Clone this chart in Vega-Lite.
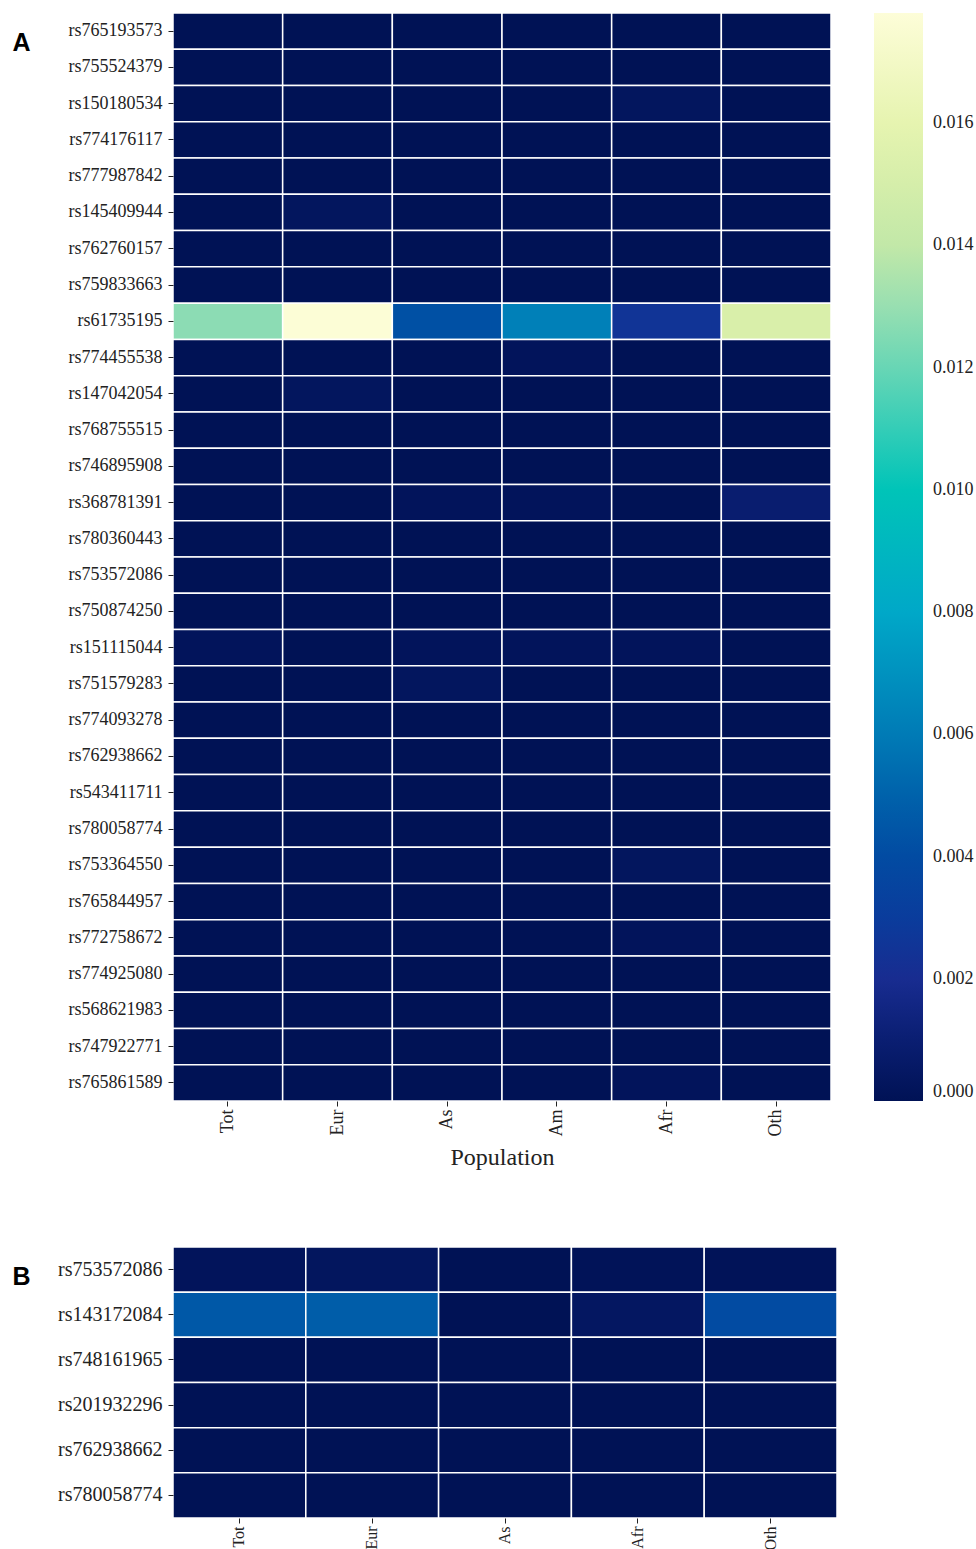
{
  "$schema": "https://vega.github.io/schema/vega-lite/v6.json",
  "padding": {"left": 11, "top": 12, "right": 0, "bottom": 0},
  "background": "white",
  "spacing": 77,
  "config": {
    "view": {"stroke": null},
    "axis": {"domain": false, "grid": false, "tickColor": "#222", "tickSize": 5, "labelColor": "#222", "labelFont": "Liberation Serif"}
  },
  "datasets": {
    "a": [
      {"snp": "rs765193573", "pop": "Tot", "value": 0}, {"snp": "rs765193573", "pop": "Eur", "value": 0}, {"snp": "rs765193573", "pop": "As", "value": 0}, {"snp": "rs765193573", "pop": "Am", "value": 0}, {"snp": "rs765193573", "pop": "Afr", "value": 0}, {"snp": "rs765193573", "pop": "Oth", "value": 0},
      {"snp": "rs755524379", "pop": "Tot", "value": 0}, {"snp": "rs755524379", "pop": "Eur", "value": 0}, {"snp": "rs755524379", "pop": "As", "value": 0}, {"snp": "rs755524379", "pop": "Am", "value": 0}, {"snp": "rs755524379", "pop": "Afr", "value": 0}, {"snp": "rs755524379", "pop": "Oth", "value": 0},
      {"snp": "rs150180534", "pop": "Tot", "value": 0}, {"snp": "rs150180534", "pop": "Eur", "value": 0}, {"snp": "rs150180534", "pop": "As", "value": 0}, {"snp": "rs150180534", "pop": "Am", "value": 0}, {"snp": "rs150180534", "pop": "Afr", "value": 0.0003}, {"snp": "rs150180534", "pop": "Oth", "value": 0},
      {"snp": "rs774176117", "pop": "Tot", "value": 0}, {"snp": "rs774176117", "pop": "Eur", "value": 0}, {"snp": "rs774176117", "pop": "As", "value": 0}, {"snp": "rs774176117", "pop": "Am", "value": 0}, {"snp": "rs774176117", "pop": "Afr", "value": 0}, {"snp": "rs774176117", "pop": "Oth", "value": 0},
      {"snp": "rs777987842", "pop": "Tot", "value": 0}, {"snp": "rs777987842", "pop": "Eur", "value": 0}, {"snp": "rs777987842", "pop": "As", "value": 0}, {"snp": "rs777987842", "pop": "Am", "value": 0}, {"snp": "rs777987842", "pop": "Afr", "value": 0}, {"snp": "rs777987842", "pop": "Oth", "value": 0},
      {"snp": "rs145409944", "pop": "Tot", "value": 0}, {"snp": "rs145409944", "pop": "Eur", "value": 0.0003}, {"snp": "rs145409944", "pop": "As", "value": 0}, {"snp": "rs145409944", "pop": "Am", "value": 0}, {"snp": "rs145409944", "pop": "Afr", "value": 0}, {"snp": "rs145409944", "pop": "Oth", "value": 0},
      {"snp": "rs762760157", "pop": "Tot", "value": 0}, {"snp": "rs762760157", "pop": "Eur", "value": 0}, {"snp": "rs762760157", "pop": "As", "value": 0}, {"snp": "rs762760157", "pop": "Am", "value": 0}, {"snp": "rs762760157", "pop": "Afr", "value": 0}, {"snp": "rs762760157", "pop": "Oth", "value": 0},
      {"snp": "rs759833663", "pop": "Tot", "value": 0}, {"snp": "rs759833663", "pop": "Eur", "value": 0}, {"snp": "rs759833663", "pop": "As", "value": 0}, {"snp": "rs759833663", "pop": "Am", "value": 0}, {"snp": "rs759833663", "pop": "Afr", "value": 0}, {"snp": "rs759833663", "pop": "Oth", "value": 0},
      {"snp": "rs61735195", "pop": "Tot", "value": 0.0127}, {"snp": "rs61735195", "pop": "Eur", "value": 0.0177}, {"snp": "rs61735195", "pop": "As", "value": 0.0043}, {"snp": "rs61735195", "pop": "Am", "value": 0.0062}, {"snp": "rs61735195", "pop": "Afr", "value": 0.0025}, {"snp": "rs61735195", "pop": "Oth", "value": 0.0152},
      {"snp": "rs774455538", "pop": "Tot", "value": 0}, {"snp": "rs774455538", "pop": "Eur", "value": 0}, {"snp": "rs774455538", "pop": "As", "value": 0}, {"snp": "rs774455538", "pop": "Am", "value": 0.0002}, {"snp": "rs774455538", "pop": "Afr", "value": 0}, {"snp": "rs774455538", "pop": "Oth", "value": 0},
      {"snp": "rs147042054", "pop": "Tot", "value": 0}, {"snp": "rs147042054", "pop": "Eur", "value": 0.0003}, {"snp": "rs147042054", "pop": "As", "value": 0}, {"snp": "rs147042054", "pop": "Am", "value": 0}, {"snp": "rs147042054", "pop": "Afr", "value": 0}, {"snp": "rs147042054", "pop": "Oth", "value": 0},
      {"snp": "rs768755515", "pop": "Tot", "value": 0}, {"snp": "rs768755515", "pop": "Eur", "value": 0}, {"snp": "rs768755515", "pop": "As", "value": 0}, {"snp": "rs768755515", "pop": "Am", "value": 0}, {"snp": "rs768755515", "pop": "Afr", "value": 0}, {"snp": "rs768755515", "pop": "Oth", "value": 0},
      {"snp": "rs746895908", "pop": "Tot", "value": 0}, {"snp": "rs746895908", "pop": "Eur", "value": 0}, {"snp": "rs746895908", "pop": "As", "value": 0}, {"snp": "rs746895908", "pop": "Am", "value": 0}, {"snp": "rs746895908", "pop": "Afr", "value": 0}, {"snp": "rs746895908", "pop": "Oth", "value": 0},
      {"snp": "rs368781391", "pop": "Tot", "value": 0}, {"snp": "rs368781391", "pop": "Eur", "value": 0}, {"snp": "rs368781391", "pop": "As", "value": 0.0002}, {"snp": "rs368781391", "pop": "Am", "value": 0.0002}, {"snp": "rs368781391", "pop": "Afr", "value": 0}, {"snp": "rs368781391", "pop": "Oth", "value": 0.0009},
      {"snp": "rs780360443", "pop": "Tot", "value": 0}, {"snp": "rs780360443", "pop": "Eur", "value": 0}, {"snp": "rs780360443", "pop": "As", "value": 0}, {"snp": "rs780360443", "pop": "Am", "value": 0}, {"snp": "rs780360443", "pop": "Afr", "value": 0}, {"snp": "rs780360443", "pop": "Oth", "value": 0},
      {"snp": "rs753572086", "pop": "Tot", "value": 0}, {"snp": "rs753572086", "pop": "Eur", "value": 0}, {"snp": "rs753572086", "pop": "As", "value": 0}, {"snp": "rs753572086", "pop": "Am", "value": 0}, {"snp": "rs753572086", "pop": "Afr", "value": 0}, {"snp": "rs753572086", "pop": "Oth", "value": 0},
      {"snp": "rs750874250", "pop": "Tot", "value": 0}, {"snp": "rs750874250", "pop": "Eur", "value": 0}, {"snp": "rs750874250", "pop": "As", "value": 0}, {"snp": "rs750874250", "pop": "Am", "value": 0}, {"snp": "rs750874250", "pop": "Afr", "value": 0}, {"snp": "rs750874250", "pop": "Oth", "value": 0},
      {"snp": "rs151115044", "pop": "Tot", "value": 0.0002}, {"snp": "rs151115044", "pop": "Eur", "value": 0}, {"snp": "rs151115044", "pop": "As", "value": 0.0002}, {"snp": "rs151115044", "pop": "Am", "value": 0.0002}, {"snp": "rs151115044", "pop": "Afr", "value": 0.0002}, {"snp": "rs151115044", "pop": "Oth", "value": 0},
      {"snp": "rs751579283", "pop": "Tot", "value": 0}, {"snp": "rs751579283", "pop": "Eur", "value": 0}, {"snp": "rs751579283", "pop": "As", "value": 0.0003}, {"snp": "rs751579283", "pop": "Am", "value": 0}, {"snp": "rs751579283", "pop": "Afr", "value": 0}, {"snp": "rs751579283", "pop": "Oth", "value": 0},
      {"snp": "rs774093278", "pop": "Tot", "value": 0}, {"snp": "rs774093278", "pop": "Eur", "value": 0}, {"snp": "rs774093278", "pop": "As", "value": 0}, {"snp": "rs774093278", "pop": "Am", "value": 0}, {"snp": "rs774093278", "pop": "Afr", "value": 0}, {"snp": "rs774093278", "pop": "Oth", "value": 0},
      {"snp": "rs762938662", "pop": "Tot", "value": 0}, {"snp": "rs762938662", "pop": "Eur", "value": 0}, {"snp": "rs762938662", "pop": "As", "value": 0}, {"snp": "rs762938662", "pop": "Am", "value": 0}, {"snp": "rs762938662", "pop": "Afr", "value": 0}, {"snp": "rs762938662", "pop": "Oth", "value": 0},
      {"snp": "rs543411711", "pop": "Tot", "value": 0}, {"snp": "rs543411711", "pop": "Eur", "value": 0}, {"snp": "rs543411711", "pop": "As", "value": 0}, {"snp": "rs543411711", "pop": "Am", "value": 0}, {"snp": "rs543411711", "pop": "Afr", "value": 0}, {"snp": "rs543411711", "pop": "Oth", "value": 0},
      {"snp": "rs780058774", "pop": "Tot", "value": 0}, {"snp": "rs780058774", "pop": "Eur", "value": 0}, {"snp": "rs780058774", "pop": "As", "value": 0}, {"snp": "rs780058774", "pop": "Am", "value": 0}, {"snp": "rs780058774", "pop": "Afr", "value": 0}, {"snp": "rs780058774", "pop": "Oth", "value": 0},
      {"snp": "rs753364550", "pop": "Tot", "value": 0}, {"snp": "rs753364550", "pop": "Eur", "value": 0}, {"snp": "rs753364550", "pop": "As", "value": 0}, {"snp": "rs753364550", "pop": "Am", "value": 0}, {"snp": "rs753364550", "pop": "Afr", "value": 0.0003}, {"snp": "rs753364550", "pop": "Oth", "value": 0},
      {"snp": "rs765844957", "pop": "Tot", "value": 0}, {"snp": "rs765844957", "pop": "Eur", "value": 0}, {"snp": "rs765844957", "pop": "As", "value": 0}, {"snp": "rs765844957", "pop": "Am", "value": 0}, {"snp": "rs765844957", "pop": "Afr", "value": 0}, {"snp": "rs765844957", "pop": "Oth", "value": 0},
      {"snp": "rs772758672", "pop": "Tot", "value": 0}, {"snp": "rs772758672", "pop": "Eur", "value": 0}, {"snp": "rs772758672", "pop": "As", "value": 0}, {"snp": "rs772758672", "pop": "Am", "value": 0}, {"snp": "rs772758672", "pop": "Afr", "value": 0.0002}, {"snp": "rs772758672", "pop": "Oth", "value": 0},
      {"snp": "rs774925080", "pop": "Tot", "value": 0}, {"snp": "rs774925080", "pop": "Eur", "value": 0}, {"snp": "rs774925080", "pop": "As", "value": 0}, {"snp": "rs774925080", "pop": "Am", "value": 0}, {"snp": "rs774925080", "pop": "Afr", "value": 0}, {"snp": "rs774925080", "pop": "Oth", "value": 0},
      {"snp": "rs568621983", "pop": "Tot", "value": 0}, {"snp": "rs568621983", "pop": "Eur", "value": 0}, {"snp": "rs568621983", "pop": "As", "value": 0}, {"snp": "rs568621983", "pop": "Am", "value": 0}, {"snp": "rs568621983", "pop": "Afr", "value": 0}, {"snp": "rs568621983", "pop": "Oth", "value": 0},
      {"snp": "rs747922771", "pop": "Tot", "value": 0}, {"snp": "rs747922771", "pop": "Eur", "value": 0}, {"snp": "rs747922771", "pop": "As", "value": 0}, {"snp": "rs747922771", "pop": "Am", "value": 0}, {"snp": "rs747922771", "pop": "Afr", "value": 0}, {"snp": "rs747922771", "pop": "Oth", "value": 0},
      {"snp": "rs765861589", "pop": "Tot", "value": 0}, {"snp": "rs765861589", "pop": "Eur", "value": 0}, {"snp": "rs765861589", "pop": "As", "value": 0}, {"snp": "rs765861589", "pop": "Am", "value": 0}, {"snp": "rs765861589", "pop": "Afr", "value": 0.0002}, {"snp": "rs765861589", "pop": "Oth", "value": 0}
    ],
    "b": [
      {"snp": "rs753572086", "pop": "Tot", "value": 0.0002}, {"snp": "rs753572086", "pop": "Eur", "value": 0.0003}, {"snp": "rs753572086", "pop": "As", "value": 0}, {"snp": "rs753572086", "pop": "Afr", "value": 0.0001}, {"snp": "rs753572086", "pop": "Oth", "value": 0.0001},
      {"snp": "rs143172084", "pop": "Tot", "value": 0.0046}, {"snp": "rs143172084", "pop": "Eur", "value": 0.0048}, {"snp": "rs143172084", "pop": "As", "value": 0}, {"snp": "rs143172084", "pop": "Afr", "value": 0.0004}, {"snp": "rs143172084", "pop": "Oth", "value": 0.0040},
      {"snp": "rs748161965", "pop": "Tot", "value": 0}, {"snp": "rs748161965", "pop": "Eur", "value": 0}, {"snp": "rs748161965", "pop": "As", "value": 0}, {"snp": "rs748161965", "pop": "Afr", "value": 0}, {"snp": "rs748161965", "pop": "Oth", "value": 0},
      {"snp": "rs201932296", "pop": "Tot", "value": 0}, {"snp": "rs201932296", "pop": "Eur", "value": 0}, {"snp": "rs201932296", "pop": "As", "value": 0}, {"snp": "rs201932296", "pop": "Afr", "value": 0}, {"snp": "rs201932296", "pop": "Oth", "value": 0},
      {"snp": "rs762938662", "pop": "Tot", "value": 0}, {"snp": "rs762938662", "pop": "Eur", "value": 0}, {"snp": "rs762938662", "pop": "As", "value": 0}, {"snp": "rs762938662", "pop": "Afr", "value": 0}, {"snp": "rs762938662", "pop": "Oth", "value": 0},
      {"snp": "rs780058774", "pop": "Tot", "value": 0}, {"snp": "rs780058774", "pop": "Eur", "value": 0}, {"snp": "rs780058774", "pop": "As", "value": 0}, {"snp": "rs780058774", "pop": "Afr", "value": 0}, {"snp": "rs780058774", "pop": "Oth", "value": 0}
    ]
  },
  "resolve": {"scale": {"color": "independent"}},
  "vconcat": [
    {
      "data": {"name": "a"},
      "width": 658,
      "height": 1088,
      "mark": {"type": "rect", "stroke": "white", "strokeWidth": 1.5},
      "encoding": {
        "x": {
          "field": "pop", "type": "nominal",
          "sort": ["Tot", "Eur", "As", "Am", "Afr", "Oth"],
          "scale": {"paddingInner": 0, "paddingOuter": 0},
          "axis": {"labelAngle": -90, "labelFontSize": 18, "labelPadding": 3, "title": "Population", "titleFont": "Liberation Serif", "titleFontSize": 24, "titleFontWeight": "normal", "titleColor": "#222", "titlePadding": 9}
        },
        "y": {
          "field": "snp", "type": "nominal", "sort": null,
          "scale": {"paddingInner": 0, "paddingOuter": 0},
          "axis": {"labelFontSize": 18, "labelPadding": 6, "title": "A", "titleAngle": 0, "titleX": -152, "titleY": 29, "titleAlign": "center", "titleBaseline": "middle", "titleFont": "Liberation Sans", "titleFontSize": 25, "titleFontWeight": "bold", "titleColor": "#000"}
        },
        "color": {
          "field": "value", "type": "quantitative",
          "scale": {
            "type": "linear",
            "domain": [0, 0.001, 0.002, 0.003, 0.0043, 0.0062, 0.008, 0.010, 0.0127, 0.014, 0.0152, 0.016, 0.0178],
            "range": ["#001255", "#0a1e72", "#182c90", "#0a3c9c", "#0050a4", "#0080b8", "#00a8c8", "#00c4b8", "#8cdcb4", "#c2e8a8", "#d9efaa", "#e6f4b0", "#fdfdd8"],
            "interpolate": "rgb"
          },
          "legend": {
            "title": null,
            "orient": "right",
            "offset": 43,
            "gradientLength": 1088,
            "gradientThickness": 49,
            "gradientStrokeWidth": 0,
            "values": [0, 0.002, 0.004, 0.006, 0.008, 0.010, 0.012, 0.014, 0.016],
            "format": ".3f",
            "labelFont": "Liberation Serif",
            "labelFontSize": 18,
            "labelColor": "#222",
            "labelOffset": 10,
            "labelOverlap": false
          }
        }
      }
    },
    {
      "data": {"name": "b"},
      "width": 664,
      "height": 271,
      "mark": {"type": "rect", "stroke": "white", "strokeWidth": 1.5},
      "encoding": {
        "x": {
          "field": "pop", "type": "nominal",
          "sort": ["Tot", "Eur", "As", "Afr", "Oth"],
          "scale": {"paddingInner": 0, "paddingOuter": 0},
          "axis": {"labelAngle": -90, "labelFontSize": 16, "labelPadding": 3, "title": null}
        },
        "y": {
          "field": "snp", "type": "nominal", "sort": null,
          "scale": {"paddingInner": 0, "paddingOuter": 0},
          "axis": {"labelFontSize": 20, "labelPadding": 6, "title": "B", "titleAngle": 0, "titleX": -152, "titleY": 29, "titleAlign": "center", "titleBaseline": "middle", "titleFont": "Liberation Sans", "titleFontSize": 25, "titleFontWeight": "bold", "titleColor": "#000"}
        },
        "color": {
          "field": "value", "type": "quantitative",
          "scale": {
            "type": "linear",
            "domain": [0, 0.001, 0.002, 0.003, 0.0043, 0.0062, 0.008, 0.010, 0.0127, 0.014, 0.0152, 0.016, 0.0178],
            "range": ["#001255", "#0a1e72", "#182c90", "#0a3c9c", "#0050a4", "#0080b8", "#00a8c8", "#00c4b8", "#8cdcb4", "#c2e8a8", "#d9efaa", "#e6f4b0", "#fdfdd8"],
            "interpolate": "rgb"
          },
          "legend": null
        }
      }
    }
  ]
}
